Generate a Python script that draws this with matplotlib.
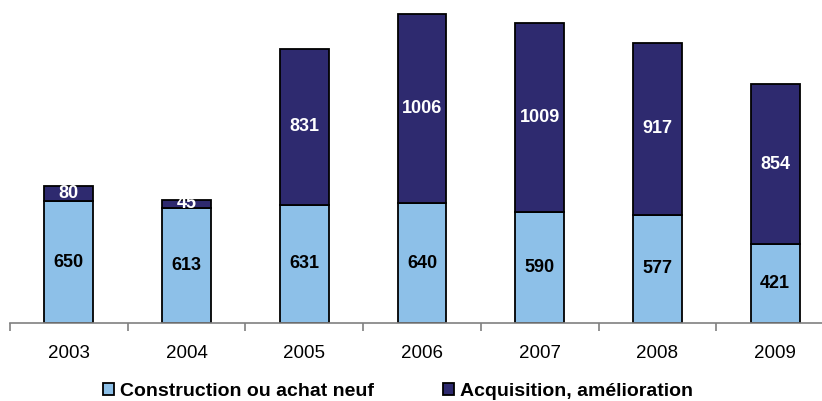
import matplotlib
matplotlib.use("Agg")
import matplotlib.pyplot as plt
import numpy as np

plt.rcParams['font.family'] = ['Liberation Sans', 'DejaVu Sans']

years = ["2003", "2004", "2005", "2006", "2007", "2008", "2009"]
construction = [650, 613, 631, 640, 590, 577, 421]
acquisition = [80, 45, 831, 1006, 1009, 917, 854]

light_blue = "#8DC0E8"
navy = "#2E2A6F"

fig = plt.figure(figsize=(8.22, 4.01), dpi=100)
ax = fig.add_axes([10 / 822, 78 / 401, 812 / 822, 323 / 401])

x = np.arange(len(years))
w = 0.415
b1 = ax.bar(x, construction, w, color=light_blue, edgecolor="black", linewidth=1.3,
            label="Construction ou achat neuf")
b2 = ax.bar(x, acquisition, w, bottom=construction, color=navy, edgecolor="black",
            linewidth=1.3, label="Acquisition, amélioration")

for i in range(len(years)):
    ax.text(x[i], construction[i] / 2, str(construction[i]), ha="center", va="center",
            fontsize=13, fontweight="bold", color="black")
    ax.text(x[i], construction[i] + acquisition[i] / 2, str(acquisition[i]), ha="center",
            va="center", fontsize=13, fontweight="bold", color="white")

for s in ["top", "right", "left"]:
    ax.spines[s].set_visible(False)
ax.spines["bottom"].set_color("#808080")
ax.spines["bottom"].set_linewidth(1.2)
ax.set_yticks([])

ax.set_xticks(x)
ax.set_xticklabels(years, fontsize=13.5)
ax.tick_params(axis="x", which="major", length=0, pad=16)
ax.set_xticks(np.arange(-0.5, 7, 1.0), minor=True)
ax.tick_params(axis="x", which="minor", length=6, width=1.2, color="#808080")

# limits set after the ticks so the boundary ticks do not widen the view
ax.set_xlim(-0.5, 6.5 - 12 / 118)
ax.set_ylim(0, 1723)

fig.legend(handles=[b1, b2], loc="center", bbox_to_anchor=(398 / 822, 1 - 391 / 401),
           ncol=2, frameon=False, handlelength=0.57, handleheight=0.57,
           handletextpad=0.31, columnspacing=3.5,
           prop={"weight": "bold", "size": 14})

fig.savefig("out.png", dpi=100)
